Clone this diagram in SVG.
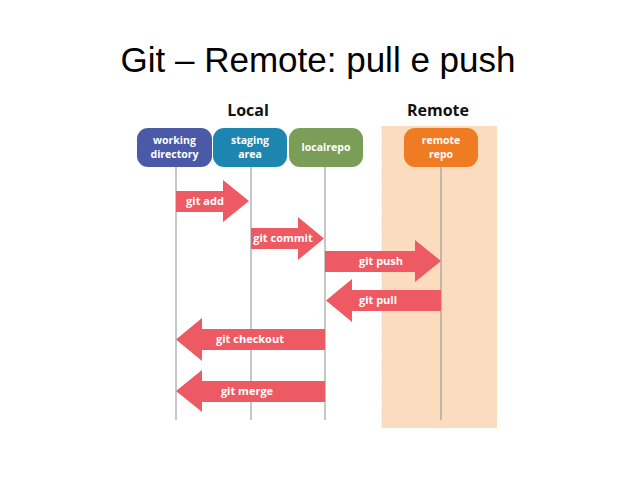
<svg xmlns="http://www.w3.org/2000/svg" width="638" height="479" viewBox="0 0 638 479">
<style>
.title{font-family:"Liberation Sans",Arial,sans-serif;font-size:35px;fill:#000}
.hdr{font-family:"Open Sans","DejaVu Sans",sans-serif;font-size:16px;font-weight:bold;fill:#111;text-anchor:middle}
.nt{font-family:"Open Sans","DejaVu Sans",sans-serif;font-size:10.5px;font-weight:bold;fill:#fff;text-anchor:middle}
.at{font-family:"Open Sans","DejaVu Sans",sans-serif;font-size:11px;font-weight:bold;fill:#fff;text-anchor:middle}
.life{stroke:#8f8f8f;stroke-width:1;fill:none}
.arr{fill:#ee5a63}
</style>
<rect width="638" height="479" fill="#fff"/>
<text class="title" x="318" y="72" text-anchor="middle">Git – Remote: pull e push</text>
<g id="remote-band">
<rect x="382" y="126" width="115" height="302" fill="#fcdcbf"/>
<line x1="382" y1="126" x2="382" y2="428" stroke="#d8d8d8" stroke-width="1" stroke-dasharray="1.5,1.5"/>
</g>
<text class="hdr" x="248" y="116">Local</text>
<text class="hdr" x="438" y="116">Remote</text>
<g id="lifelines">
<line class="life" x1="176" y1="166" x2="176" y2="420"/>
<line class="life" x1="251" y1="166" x2="251" y2="420"/>
<line class="life" x1="325" y1="166" x2="325" y2="420"/>
<line class="life" x1="441" y1="166" x2="441" y2="420"/>
</g>
<g id="working-directory">
<rect x="137" y="128" width="75" height="39" rx="11" fill="#4b5aa7"/>
<text class="nt" x="174.5" y="143.5">working</text>
<text class="nt" x="174.5" y="158">directory</text>
</g>
<g id="staging-area">
<rect x="213" y="128" width="74" height="39" rx="11" fill="#1d86b0"/>
<text class="nt" x="250" y="143.5">staging</text>
<text class="nt" x="250" y="158">area</text>
</g>
<g id="localrepo">
<rect x="289" y="128" width="74" height="39" rx="11" fill="#7a9e58"/>
<text class="nt" x="326" y="151">localrepo</text>
</g>
<g id="remote-repo">
<rect x="404" y="128" width="74" height="39" rx="11" fill="#ef7b22"/>
<text class="nt" x="441" y="143.5">remote</text>
<text class="nt" x="441" y="158">repo</text>
</g>
<g id="connectors">
<g id="git-add">
<polygon class="arr" points="176,191 223,191 223,180 249,201 223,222 223,212 176,212"/>
<text class="at" x="205" y="205">git add</text>
</g>
<g id="git-commit">
<polygon class="arr" points="251,228 298,228 298,217 324,238.5 298,260 298,249 251,249"/>
<text class="at" x="283" y="242">git commit</text>
</g>
<g id="git-push">
<polygon class="arr" points="325,251 415,251 415,240 441,261 415,282 415,272 325,272"/>
<text class="at" x="381" y="265">git push</text>
</g>
<g id="git-pull">
<polygon class="arr" points="441,290 352,290 352,279 326,300.5 352,322 352,311 441,311"/>
<text class="at" x="378" y="304">git pull</text>
</g>
<g id="git-checkout">
<polygon class="arr" points="325,329 202,329 202,318 176,339.5 202,361 202,350 325,350"/>
<text class="at" x="250" y="343">git checkout</text>
</g>
<g id="git-merge">
<polygon class="arr" points="325,381 202,381 202,370 176,391 202,412 202,402 325,402"/>
<text class="at" x="247" y="395">git merge</text>
</g>
</g>
</svg>
